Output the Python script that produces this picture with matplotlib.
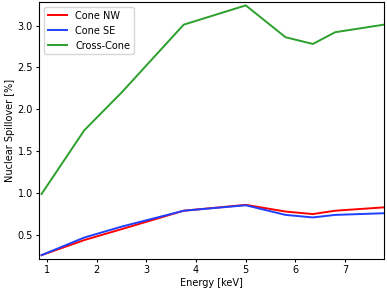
import matplotlib.pyplot as plt

energy = [0.89, 1.75, 2.5, 3.75, 5.0, 5.8, 6.35, 6.8, 7.78]
cone_nw = [0.26, 0.44, 0.57, 0.79, 0.86, 0.78, 0.75, 0.79, 0.83]
cone_se = [0.26, 0.47, 0.60, 0.79, 0.855, 0.74, 0.71, 0.74, 0.76]
cross_cone = [0.99, 1.75, 2.20, 3.01, 3.24, 2.86, 2.78, 2.92, 3.01]

plt.rcParams['font.size'] = 7

fig = plt.figure(figsize=(3.87, 2.91), dpi=100)
ax = fig.add_axes([0.101, 0.11, 0.891, 0.883])
ax.plot(energy, cone_nw, color='red', lw=1.4, label='Cone NW')
ax.plot(energy, cone_se, color='#2040ff', lw=1.4, label='Cone SE')
ax.plot(energy, cross_cone, color='#2ca02c', lw=1.4, label='Cross-Cone')
ax.set_xlim(0.84, 7.78)
ax.set_ylim(0.214, 3.28)
ax.tick_params(length=2.5, pad=2)
ax.set_xlabel('Energy [keV]', labelpad=2)
ax.set_ylabel('Nuclear Spillover [%]', labelpad=2)
ax.legend(loc='upper left')
fig.savefig('out.png')
